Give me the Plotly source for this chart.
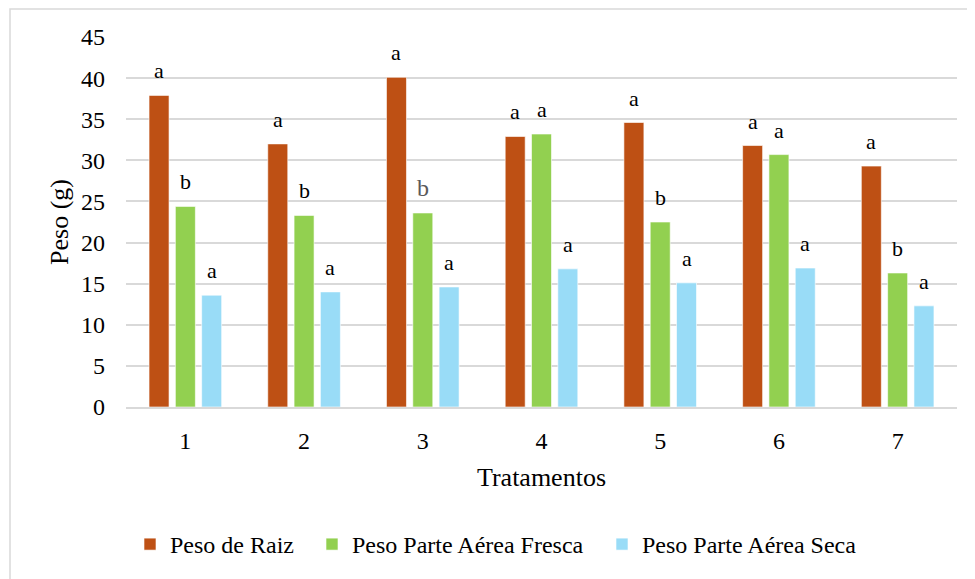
import plotly.graph_objects as go

categories = ["1", "2", "3", "4", "5", "6", "7"]
peso_raiz = [37.9, 32.0, 40.1, 32.9, 34.6, 31.8, 29.3]
peso_fresca = [24.4, 23.3, 23.6, 33.2, 22.5, 30.7, 16.3]
peso_seca = [13.6, 14.0, 14.6, 16.8, 15.1, 16.9, 12.3]
letras_raiz = ["a", "a", "a", "a", "a", "a", "a"]
letras_fresca = ["b", "b", "b", "a", "b", "a", "b"]
letras_seca = ["a", "a", "a", "a", "a", "a", "a"]

series = [
    ("Peso de Raiz", peso_raiz, letras_raiz, "#BE5014"),
    ("Peso Parte Aérea Fresca", peso_fresca, letras_fresca, "#92D050"),
    ("Peso Parte Aérea Seca", peso_seca, letras_seca, "#99DCF7"),
]

FONT = "Liberation Serif"
OFF = 8  # default page body margin
W, H = 975 - OFF, 579 - OFF
ML, MR, MT, MB = 126 - OFF, 18, 37 - OFF, 168
plot_w = W - ML - MR
plot_h = H - MT - MB
group_px = plot_w / len(categories)
bargap = 0.335
slot_px = group_px * (1 - bargap) / 3

def px_x(screen_x):
    return (screen_x - OFF - ML) / plot_w

def px_y(screen_y):
    return (H - MB - (screen_y - OFF)) / plot_h

legend_names = ["legend", "legend2", "legend3"]
legend_text_start = [169, 351, 641]

fig = go.Figure()
for (name, vals, _, color), lg in zip(series, legend_names):
    fig.add_trace(go.Bar(
        x=categories, y=vals, name=name, legend=lg,
        marker=dict(color=color, line=dict(color="rgba(255,255,255,0.6)", width=1)),
    ))

annotations = []
for si, (name, vals, letters, color) in enumerate(series):
    shift = (si - 1) * slot_px
    for ci, (v, L) in enumerate(zip(vals, letters)):
        special = (categories[ci] == "3" and si == 1)
        annotations.append(dict(
            x=ci, y=v, xref="x", yref="y", text=L, showarrow=False,
            xshift=shift, yanchor="bottom", yshift=10,
            font=dict(family=FONT, size=24 if special else 22,
                      color="#595959" if special else "#000000"),
        ))

fig.add_shape(type="rect", xref="paper", yref="paper",
              x0=px_x(10), x1=px_x(1000), y0=px_y(8.7), y1=px_y(620),
              line=dict(color="#D9D9D9", width=1.5), fillcolor="rgba(0,0,0,0)")

legend_layouts = {}
for lg, ts in zip(legend_names, legend_text_start):
    legend_layouts[lg] = dict(
        orientation="h", x=px_x(ts - 39), xanchor="left",
        y=px_y(550), yanchor="middle",
        font=dict(family=FONT, size=24, color="#000000"),
        itemwidth=30, bgcolor="rgba(0,0,0,0)",
    )

fig.update_layout(
    width=W, height=H,
    margin=dict(l=ML, r=MR, t=MT, b=MB),
    paper_bgcolor="white", plot_bgcolor="white",
    barmode="group", bargap=bargap, bargroupgap=0.24,
    font=dict(family=FONT, color="#000000", size=22),
    annotations=annotations,
    showlegend=True,
    **legend_layouts,
    xaxis=dict(
        title=dict(text="Tratamentos", font=dict(family=FONT, size=26), standoff=15),
        tickfont=dict(family=FONT, size=24),
        type="category", range=[-0.5, 6.5], automargin=False,
        showline=True, linecolor="#D9D9D9", linewidth=1.5,
        ticks="", ticklabelstandoff=11,
    ),
    yaxis=dict(
        title=dict(text="Peso (g)", font=dict(family=FONT, size=26), standoff=4),
        range=[0, 45], dtick=5, tick0=0, automargin=False,
        tickfont=dict(family=FONT, size=24),
        showgrid=True, gridcolor="#D9D9D9", gridwidth=1.5,
        zeroline=False, showline=False,
        ticks="", ticklabelstandoff=20,
    ),
)

fig.write_html("out.html")
